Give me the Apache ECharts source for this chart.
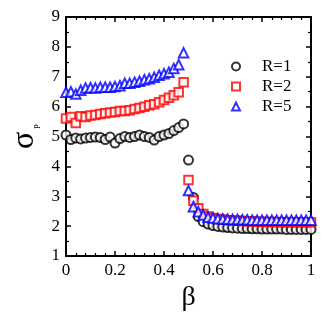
<!DOCTYPE html>
<html>
<head>
<meta charset="utf-8">
<script src="https://cdn.jsdelivr.net/npm/echarts@6/dist/echarts.min.js"></script>
<style>html,body{margin:0;padding:0;background:#fff}#c{width:327px;height:317px}</style>
</head>
<body>
<div id="c"></div>
<script>
var beta = [0, 0.02, 0.04, 0.06, 0.08, 0.10, 0.12, 0.14, 0.16, 0.18, 0.20, 0.22, 0.24, 0.26, 0.28, 0.30, 0.32, 0.34, 0.36, 0.38, 0.40, 0.42, 0.44, 0.46, 0.48,
  0.50, 0.52, 0.54, 0.56, 0.58, 0.60, 0.62, 0.64, 0.66, 0.68, 0.70, 0.72, 0.74, 0.76, 0.78, 0.80, 0.82, 0.84, 0.86, 0.88, 0.90, 0.92, 0.94, 0.96, 0.98, 1.00];
var r1 = [5.05, 4.90, 4.95, 4.92, 4.95, 4.97, 4.98, 4.97, 4.90, 4.98, 4.78, 4.93, 5.00, 4.97, 5.00, 5.05, 5.00, 4.97, 4.88, 5.00, 5.05, 5.10, 5.20, 5.30, 5.42,
  4.21, 2.96, 2.32, 2.15, 2.07, 2.02, 1.99, 1.97, 1.95, 1.94, 1.93, 1.92, 1.92, 1.91, 1.91, 1.90, 1.90, 1.90, 1.90, 1.90, 1.89, 1.89, 1.89, 1.89, 1.89, 1.89];
var r2 = [5.60, 5.65, 5.45, 5.68, 5.65, 5.70, 5.72, 5.75, 5.78, 5.80, 5.82, 5.85, 5.85, 5.88, 5.92, 5.95, 6.00, 6.05, 6.08, 6.15, 6.22, 6.30, 6.38, 6.48, 6.82,
  3.54, 2.85, 2.60, 2.41, 2.32, 2.27, 2.24, 2.22, 2.20, 2.19, 2.18, 2.17, 2.16, 2.16, 2.15, 2.15, 2.14, 2.14, 2.14, 2.13, 2.13, 2.13, 2.13, 2.13, 2.13, 2.13];
var r5 = [6.48, 6.50, 6.42, 6.55, 6.62, 6.63, 6.62, 6.65, 6.65, 6.65, 6.67, 6.70, 6.78, 6.78, 6.82, 6.85, 6.90, 6.93, 6.98, 7.05, 7.10, 7.15, 7.28, 7.40, 7.80,
  3.19, 2.65, 2.48, 2.37, 2.30, 2.27, 2.25, 2.24, 2.23, 2.22, 2.22, 2.21, 2.21, 2.20, 2.20, 2.20, 2.20, 2.20, 2.20, 2.20, 2.20, 2.20, 2.20, 2.20, 2.20, 2.20];
var seriesNames = ['R=1', 'R=2', 'R=5'];
var xTicks = [0, 0.2, 0.4, 0.6, 0.8, 1];
var yTicks = [1, 2, 3, 4, 5, 6, 7, 8, 9];

function pairs(ys) { return beta.map(function (b, i) { return [b, ys[i]]; }); }
var font = '"Liberation Serif", "DejaVu Serif", serif';

var axisCommon = {
  axisLine: { show: true, onZero: false, lineStyle: { color: '#000', width: 2 } },
  axisTick: { show: true, inside: true, length: 5, lineStyle: { color: '#000', width: 1.5 } },
  minorTick: { show: true, length: 3, lineStyle: { color: '#000', width: 1.2 } },
  splitLine: { show: false }
};

var chart = echarts.init(document.getElementById('c'), null, { renderer: 'canvas' });
chart.setOption({
  animation: false,
  backgroundColor: '#fff',
  grid: { left: 66, right: 16, top: 17, bottom: 61, containLabel: false },
  legend: {
    orient: 'vertical', left: 226, top: 53,
    itemWidth: 8, itemHeight: 8, itemGap: 3,
    data: seriesNames,
    textStyle: { fontFamily: font, fontSize: 17, lineHeight: 17, color: '#000', padding: [0, 0, 0, 17] }
  },
  xAxis: [
    Object.assign({}, axisCommon, {
      type: 'value', min: 0, max: 1, interval: 0.2, position: 'bottom',
      minorTick: Object.assign({}, axisCommon.minorTick, { splitNumber: 5 }),
      axisLabel: { show: true, color: '#000', fontFamily: font, fontSize: 17, margin: 6,
        formatter: function (v) { return xTicks.indexOf(Math.round(v * 10) / 10) >= 0 ? String(Math.round(v * 10) / 10) : ''; } },
      name: 'β', nameLocation: 'middle', nameGap: 24,
      nameTextStyle: { fontFamily: font, fontSize: 28, color: '#000' }
    }),
    Object.assign({}, axisCommon, {
      type: 'value', min: 0, max: 1, interval: 0.2, position: 'top',
      minorTick: Object.assign({}, axisCommon.minorTick, { splitNumber: 5 }),
      axisLabel: { show: false }
    })
  ],
  yAxis: [
    Object.assign({}, axisCommon, {
      type: 'value', min: 1, max: 9, interval: 1, position: 'left',
      minorTick: Object.assign({}, axisCommon.minorTick, { splitNumber: 2 }),
      axisLabel: { show: true, color: '#000', fontFamily: font, fontSize: 17, margin: 6,
        formatter: function (v) { return yTicks.indexOf(v) >= 0 ? String(v) : ''; } },
      name: '{a|σ}{b|p}', nameLocation: 'middle', nameGap: 24, nameRotate: 90,
      nameTextStyle: { color: '#000', rich: {
        a: { fontFamily: font, fontSize: 32, color: '#000' },
        b: { fontFamily: font, fontSize: 9, color: '#000', verticalAlign: 'bottom', padding: [0, 0, 0, 3] }
      } }
    }),
    Object.assign({}, axisCommon, {
      type: 'value', min: 1, max: 9, interval: 1, position: 'right',
      minorTick: Object.assign({}, axisCommon.minorTick, { splitNumber: 2 }),
      axisLabel: { show: false }
    })
  ],
  series: [
    { name: 'R=1', type: 'scatter', symbol: 'emptyCircle', symbolSize: 9, data: pairs(r1),
      itemStyle: { color: '#000', borderColor: '#000', borderWidth: 1.1 } },
    { name: 'R=2', type: 'scatter', symbol: 'emptyRect', symbolSize: 8.5, data: pairs(r2),
      itemStyle: { color: '#ff0000', borderColor: '#ff0000', borderWidth: 1.1 } },
    { name: 'R=5', type: 'scatter', symbol: 'emptyTriangle', symbolSize: 9.5, data: pairs(r5),
      itemStyle: { color: '#0000ff', borderColor: '#0000ff', borderWidth: 1.1 } }
  ]
});
</script>
</body>
</html>
